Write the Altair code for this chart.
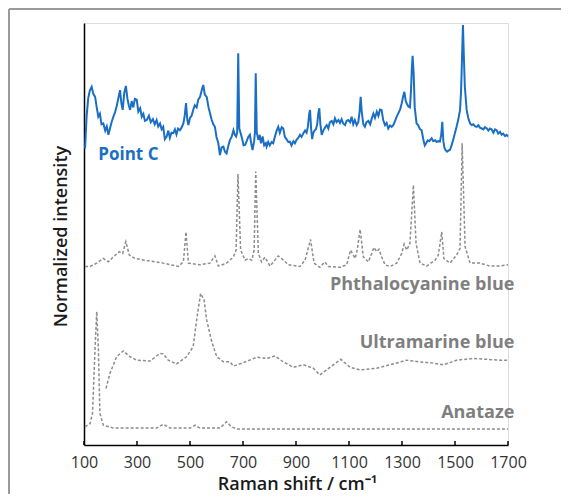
import altair as alt
import pandas as pd

# ---- data (x: Raman shift cm-1, y: normalized intensity, stacked offsets included) ----
point_c_x = [104, 110, 116, 122, 129, 135, 142, 148, 154, 160, 166, 173, 180, 186, 192, 198, 204, 211, 217, 223,
             229, 236, 241, 246, 252, 258, 264, 269, 274, 280, 286, 292, 299, 305, 312, 318, 324, 330, 337, 345,
             352, 360, 367, 374, 380, 387, 393, 399, 405, 412, 418, 424, 430, 437, 443, 449, 455, 462, 468, 475,
             480, 485, 490, 494, 500, 506, 512, 518, 525, 531, 538, 544, 550, 556, 563, 570, 576, 582, 588, 594,
             600, 607, 613, 619, 626, 632, 638, 645, 651, 657, 664, 669, 674, 678, 682, 686, 691, 697, 702, 708,
             714, 720, 726, 731, 736, 742, 745, 748, 752, 758, 763, 768, 774, 780, 786, 789, 795, 801, 808, 814,
             820, 827, 833, 839, 846, 852, 858, 864, 871, 877, 883, 890, 896, 902, 909, 915, 921, 928, 934, 940,
             945, 950, 953, 957, 961, 965, 970, 975, 980, 984, 988, 992, 997, 1003, 1010, 1016, 1022, 1028, 1035, 1041,
             1047, 1053, 1060, 1066, 1072, 1078, 1085, 1091, 1097, 1104, 1110, 1116, 1122, 1129, 1135, 1140, 1144, 1148, 1154, 1160,
             1166, 1173, 1180, 1186, 1192, 1198, 1205, 1211, 1217, 1223, 1229, 1236, 1242, 1248, 1255, 1261, 1267, 1274, 1280, 1286,
             1293, 1299, 1304, 1309, 1314, 1319, 1324, 1330, 1334, 1337, 1340, 1344, 1348, 1355, 1361, 1368, 1374, 1380, 1386, 1391,
             1397, 1403, 1412, 1418, 1425, 1431, 1437, 1443, 1448, 1452, 1456, 1460, 1464, 1470, 1476, 1481, 1487, 1494, 1500, 1506,
             1512, 1519, 1523, 1527, 1530, 1533, 1537, 1544, 1550, 1557, 1563, 1569, 1576, 1582, 1588, 1594, 1601, 1607, 1613, 1620,
             1626, 1632, 1638, 1645, 1651, 1657, 1663, 1670, 1676, 1682, 1689, 1695, 1700]
point_c_y = [70.3, 78.0, 82.2, 84.0, 84.9, 83.2, 82.5, 80.0, 77.8, 78.5, 76.0, 76.2, 74.5, 75.5, 73.5, 75.0, 76.5, 77.8, 78.8, 80.2,
             82.0, 84.1, 81.0, 79.4, 83.5, 85.1, 82.0, 80.5, 79.4, 81.5, 80.0, 82.0, 81.8, 79.0, 79.8, 77.8, 78.5, 76.8, 77.0, 78.0,
             76.5, 77.2, 76.0, 77.0, 75.5, 76.2, 74.8, 75.4, 72.5, 73.1, 74.5, 72.8, 74.0, 73.9, 74.8, 73.6, 75.0, 74.6, 75.2, 76.2,
             78.0, 81.0, 77.0, 75.8, 77.5, 78.0, 79.4, 80.5, 80.0, 81.8, 82.5, 84.0, 85.3, 83.0, 82.5, 80.0, 78.5, 77.0, 76.0, 75.4,
             73.0, 71.5, 68.7, 70.5, 70.7, 69.5, 69.1, 71.0, 72.3, 73.0, 74.6, 73.5, 73.1, 74.0, 92.8, 75.0, 73.9, 72.5, 71.0, 71.1,
             72.0, 73.0, 73.5, 71.5, 69.9, 72.0, 74.0, 88.1, 74.0, 72.3, 73.5, 71.5, 73.1, 71.0, 71.5, 70.7, 71.8, 71.0, 71.8, 71.5,
             73.0, 74.5, 75.4, 74.0, 75.3, 75.0, 73.0, 72.5, 71.8, 71.9, 71.0, 72.0, 71.5, 72.3, 72.8, 73.5, 73.0, 73.9, 74.5, 74.0,
             75.5, 78.5, 79.4, 75.0, 72.5, 73.9, 74.5, 74.8, 76.0, 78.5, 79.8, 76.0, 73.5, 74.5, 75.3, 75.8, 75.0, 76.5, 76.8, 76.0,
             77.4, 76.5, 77.0, 76.3, 77.2, 76.2, 75.8, 76.8, 77.0, 76.5, 77.8, 76.0, 77.0, 75.8, 76.5, 79.0, 82.5, 79.0, 76.0, 75.4,
             76.5, 76.8, 76.0, 77.4, 78.5, 77.5, 79.0, 78.0, 79.5, 79.4, 77.0, 75.8, 76.3, 75.0, 75.7, 75.4, 75.8, 76.8, 77.8, 78.6,
             79.5, 81.0, 82.5, 83.7, 81.5, 80.8, 80.2, 80.0, 84.0, 89.0, 92.2, 88.0, 80.0, 76.2, 75.8, 74.8, 74.6, 72.5, 71.0, 71.5,
             72.2, 72.0, 72.7, 72.0, 72.2, 71.8, 72.0, 71.9, 73.5, 76.6, 72.0, 70.5, 69.9, 69.5, 69.8, 69.9, 71.0, 72.5, 74.0, 75.4,
             77.0, 79.4, 84.0, 93.0, 99.5, 93.0, 85.0, 79.4, 77.5, 76.2, 75.8, 76.0, 75.5, 75.4, 75.8, 75.2, 75.0, 74.8, 75.3, 75.0,
             74.5, 75.0, 74.8, 74.0, 74.8, 74.6, 73.8, 74.2, 73.5, 73.8, 73.2, 73.5, 73.1]

phthalo_x = [104, 123, 148, 173, 192, 211, 233, 246, 258, 271, 292, 337, 399, 456, 475, 485, 494, 538, 575, 594,
             607, 638, 664, 674, 681, 691, 708, 720, 733, 742, 748, 758, 770, 783, 802, 833, 846, 871, 915, 934,
             955, 968, 990, 1009, 1022, 1066, 1091, 1106, 1123, 1131, 1142, 1154, 1173, 1186, 1194, 1205, 1213,
             1223, 1236, 1255, 1280, 1299, 1308, 1318, 1330, 1343, 1353, 1368, 1393, 1425, 1437, 1450, 1458, 1481,
             1506, 1519, 1527, 1538, 1557, 1594, 1632, 1670, 1700]
phthalo_y = [42.3, 42.3, 43.1, 44.2, 43.4, 44.6, 45.8, 45.4, 48.2, 45.0, 44.2, 43.7, 43.1, 42.3, 43.4, 50.5, 43.1, 42.7, 43.1, 44.8,
             42.4, 43.1, 44.6, 46.2, 64.2, 46.2, 43.8, 44.2, 43.8, 46.2, 64.8, 45.4, 43.4, 44.5, 42.4, 44.8, 44.2, 42.7, 42.3, 43.8,
             48.7, 43.1, 42.1, 43.4, 42.3, 42.1, 42.7, 46.2, 44.2, 46.2, 51.1, 44.6, 43.4, 45.4, 46.8, 45.8, 46.4,
             44.6, 42.7, 42.3, 43.1, 45.4, 47.6, 46.2, 47.8, 61.6, 47.8, 43.1, 42.4, 43.8, 45.0, 50.5, 44.2, 43.1,
             45.0, 46.6, 71.5, 47.0, 43.1, 43.1, 42.4, 42.4, 42.7]

ultra_x = [183, 198, 223, 248, 274, 299, 349, 387, 399, 418, 449, 487, 512, 525, 540, 553, 563, 582, 601, 626,
           651, 664, 701, 752, 789, 821, 852, 890, 928, 965, 990, 1028, 1069, 1104, 1142, 1205, 1255, 1318, 1368,
           1418, 1456, 1506, 1569, 1620, 1670, 1700]
ultra_y = [13.4, 17.0, 20.9, 22.3, 20.9, 20.1, 19.9, 21.7, 21.6, 20.1, 19.2, 20.9, 23.3, 29.6, 35.9, 34.4, 29.6, 24.5, 20.9, 19.7,
           19.7, 18.7, 19.5, 20.8, 20.5, 21.1, 19.7, 18.4, 19.0, 18.2, 16.6, 18.4, 20.3, 18.4, 17.8, 18.2, 19.0, 20.1, 19.7,
           19.4, 19.0, 20.1, 20.5, 20.3, 20.1, 20.1]

anat_x = [104, 123, 132, 142, 148, 154, 160, 173, 211, 374, 399, 425, 500, 519, 538, 613, 638, 657, 676, 1700]
anat_y = [4.3, 5.1, 7.5, 23.3, 31.6, 23.3, 7.5, 4.7, 4.0, 4.0, 4.9, 4.0, 4.0, 4.7, 4.0, 4.0, 5.5, 4.3, 3.8, 3.8]

x_ticks = [100, 300, 500, 700, 900, 1100, 1300, 1500, 1700]

label_text = ["Point C", "Phthalocyanine blue", "Ultramarine blue", "Anataze"]
label_x = [154, 1724, 1724, 1724]
label_y = [67.5, 36.7, 22.9, 6.3]

# ---- tables ----
blue_df = pd.DataFrame({"x": point_c_x, "y": point_c_y, "series": "Point C"})
gray_df = pd.concat([
    pd.DataFrame({"x": phthalo_x, "y": phthalo_y, "series": "Phthalocyanine blue"}),
    pd.DataFrame({"x": ultra_x, "y": ultra_y, "series": "Ultramarine blue"}),
    pd.DataFrame({"x": anat_x, "y": anat_y, "series": "Anataze"}),
])
lab_df = pd.DataFrame({"x": label_x, "y": label_y, "text": label_text})
tick_df = pd.DataFrame({"x": x_ticks})

BLUE = "#1a6fc4"
GRAY = "#8c8c8c"
FONT = "Open Sans"

xscale = alt.Scale(domain=[100, 1700], nice=False, zero=False)
yscale = alt.Scale(domain=[0, 100], nice=False, zero=False)

xaxis = alt.Axis(values=x_ticks, format="d", ticks=False, tickSize=0, grid=False, labelFlush=False,
                 labelFontSize=16, labelColor="#333333", labelPadding=9, labelFont=FONT,
                 domainColor="#000000", domainWidth=1.5,
                 title="Raman shift / cm⁻¹", titleFontSize=18, titleFontWeight=600, titleFont=FONT,
                 titleColor="#1a1a1a", titleX=213, titleY=44, titleBaseline="alphabetic", titleAnchor="middle")
yaxis = alt.Axis(ticks=False, labels=False, grid=False, domainColor="#000000", domainWidth=1.5,
                 title="Normalized intensity", titleFontSize=18, titleFontWeight=600, titleFont=FONT,
                 titleColor="#1a1a1a", titleX=-18, titleY=213, titleBaseline="alphabetic", titleAlign="center",
                 titleAngle=270)

blue_line = alt.Chart(blue_df).mark_line(color=BLUE, strokeWidth=2).encode(
    x=alt.X("x:Q", scale=xscale, axis=xaxis),
    y=alt.Y("y:Q", scale=yscale, axis=yaxis),
    order="x:Q",
)

gray_lines = alt.Chart(gray_df).mark_line(color=GRAY, strokeWidth=1.5, strokeDash=[3, 2]).encode(
    x=alt.X("x:Q", scale=xscale),
    y=alt.Y("y:Q", scale=yscale),
    detail="series:N",
    order="x:Q",
)

ticks = alt.Chart(tick_df).mark_rule(color="#000000", strokeWidth=1.5).encode(
    x=alt.X("x:Q", scale=xscale),
    y=alt.value(418),
    y2=alt.value(422),
)

lab_blue = alt.Chart(lab_df).transform_filter(alt.datum.text == "Point C").mark_text(
    align="left", baseline="alphabetic", fontSize=17, fontWeight="bold", font=FONT, color=BLUE
).encode(x=alt.X("x:Q", scale=xscale), y=alt.Y("y:Q", scale=yscale), text="text:N")

lab_gray = alt.Chart(lab_df).transform_filter(alt.datum.text != "Point C").mark_text(
    align="right", baseline="alphabetic", fontSize=18, fontWeight="bold", font=FONT, color="#7f7f7f"
).encode(x=alt.X("x:Q", scale=xscale), y=alt.Y("y:Q", scale=yscale), text="text:N")

frame_df = pd.DataFrame({"k": [0]})
frame_top = alt.Chart(frame_df).mark_rule(color="#9a9a9a", strokeWidth=2).encode(
    x=alt.value(-75), x2=alt.value(477), y=alt.value(-14))
frame_left = alt.Chart(frame_df).mark_rule(color="#9a9a9a", strokeWidth=2).encode(
    x=alt.value(-75), y=alt.value(-14), y2=alt.value(471))

chart = alt.layer(frame_top, frame_left, gray_lines, blue_line, ticks, lab_blue, lab_gray).properties(
    width=424, height=422,
    autosize=alt.AutoSizeParams(type="none"),
    padding={"left": 76, "top": 15, "right": 53, "bottom": 49},
).configure_view(stroke=None).configure(font=FONT)

chart.save("out.html", embed_options={"renderer": "svg", "actions": False})
